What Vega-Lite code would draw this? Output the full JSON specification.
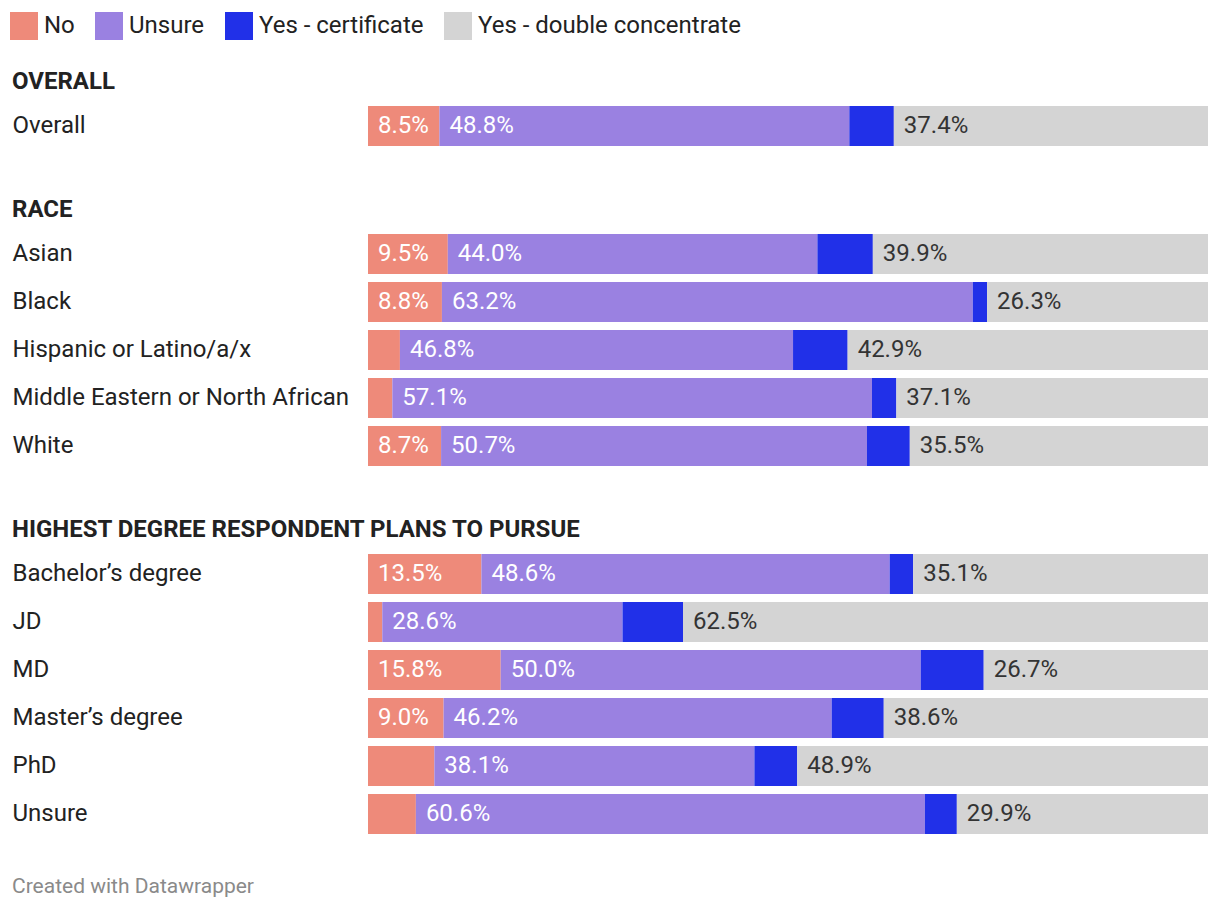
{
  "$schema": "https://vega.github.io/schema/vega-lite/v6.json",
  "background": "white",
  "padding": {"left": 10, "top": 12, "right": 12, "bottom": 12},
  "autosize": {"type": "pad"},
  "config": {
    "font": "Roboto",
    "view": {"stroke": null},
    "concat": {"spacing": 48},
    "legend": {"labelFont": "Roboto"}
  },
  "title": {"text": "Created with Datawrapper", "orient": "bottom", "anchor": "start", "frame": "bounds", "fontSize": 21, "fontWeight": "normal", "color": "#8a8a8a", "offset": 38, "dx": 2, "font": "Roboto"},
  "data": {"values": [
    {"group": "OVERALL", "label": "Overall", "answer": "No", "value": 8.5},
    {"group": "OVERALL", "label": "Overall", "answer": "Unsure", "value": 48.8},
    {"group": "OVERALL", "label": "Overall", "answer": "Yes - certificate", "value": 5.3},
    {"group": "OVERALL", "label": "Overall", "answer": "Yes - double concentrate", "value": 37.4},
    {"group": "RACE", "label": "Asian", "answer": "No", "value": 9.5},
    {"group": "RACE", "label": "Asian", "answer": "Unsure", "value": 44.0},
    {"group": "RACE", "label": "Asian", "answer": "Yes - certificate", "value": 6.6},
    {"group": "RACE", "label": "Asian", "answer": "Yes - double concentrate", "value": 39.9},
    {"group": "RACE", "label": "Black", "answer": "No", "value": 8.8},
    {"group": "RACE", "label": "Black", "answer": "Unsure", "value": 63.2},
    {"group": "RACE", "label": "Black", "answer": "Yes - certificate", "value": 1.7},
    {"group": "RACE", "label": "Black", "answer": "Yes - double concentrate", "value": 26.3},
    {"group": "RACE", "label": "Hispanic or Latino/a/x", "answer": "No", "value": 3.8},
    {"group": "RACE", "label": "Hispanic or Latino/a/x", "answer": "Unsure", "value": 46.8},
    {"group": "RACE", "label": "Hispanic or Latino/a/x", "answer": "Yes - certificate", "value": 6.5},
    {"group": "RACE", "label": "Hispanic or Latino/a/x", "answer": "Yes - double concentrate", "value": 42.9},
    {"group": "RACE", "label": "Middle Eastern or North African", "answer": "No", "value": 2.9},
    {"group": "RACE", "label": "Middle Eastern or North African", "answer": "Unsure", "value": 57.1},
    {"group": "RACE", "label": "Middle Eastern or North African", "answer": "Yes - certificate", "value": 2.9},
    {"group": "RACE", "label": "Middle Eastern or North African", "answer": "Yes - double concentrate", "value": 37.1},
    {"group": "RACE", "label": "White", "answer": "No", "value": 8.7},
    {"group": "RACE", "label": "White", "answer": "Unsure", "value": 50.7},
    {"group": "RACE", "label": "White", "answer": "Yes - certificate", "value": 5.1},
    {"group": "RACE", "label": "White", "answer": "Yes - double concentrate", "value": 35.5},
    {"group": "DEGREE", "label": "Bachelor’s degree", "answer": "No", "value": 13.5},
    {"group": "DEGREE", "label": "Bachelor’s degree", "answer": "Unsure", "value": 48.6},
    {"group": "DEGREE", "label": "Bachelor’s degree", "answer": "Yes - certificate", "value": 2.8},
    {"group": "DEGREE", "label": "Bachelor’s degree", "answer": "Yes - double concentrate", "value": 35.1},
    {"group": "DEGREE", "label": "JD", "answer": "No", "value": 1.7},
    {"group": "DEGREE", "label": "JD", "answer": "Unsure", "value": 28.6},
    {"group": "DEGREE", "label": "JD", "answer": "Yes - certificate", "value": 7.2},
    {"group": "DEGREE", "label": "JD", "answer": "Yes - double concentrate", "value": 62.5},
    {"group": "DEGREE", "label": "MD", "answer": "No", "value": 15.8},
    {"group": "DEGREE", "label": "MD", "answer": "Unsure", "value": 50.0},
    {"group": "DEGREE", "label": "MD", "answer": "Yes - certificate", "value": 7.5},
    {"group": "DEGREE", "label": "MD", "answer": "Yes - double concentrate", "value": 26.7},
    {"group": "DEGREE", "label": "Master’s degree", "answer": "No", "value": 9.0},
    {"group": "DEGREE", "label": "Master’s degree", "answer": "Unsure", "value": 46.2},
    {"group": "DEGREE", "label": "Master’s degree", "answer": "Yes - certificate", "value": 6.2},
    {"group": "DEGREE", "label": "Master’s degree", "answer": "Yes - double concentrate", "value": 38.6},
    {"group": "DEGREE", "label": "PhD", "answer": "No", "value": 7.9},
    {"group": "DEGREE", "label": "PhD", "answer": "Unsure", "value": 38.1},
    {"group": "DEGREE", "label": "PhD", "answer": "Yes - certificate", "value": 5.1},
    {"group": "DEGREE", "label": "PhD", "answer": "Yes - double concentrate", "value": 48.9},
    {"group": "DEGREE", "label": "Unsure", "answer": "No", "value": 5.7},
    {"group": "DEGREE", "label": "Unsure", "answer": "Unsure", "value": 60.6},
    {"group": "DEGREE", "label": "Unsure", "answer": "Yes - certificate", "value": 3.8},
    {"group": "DEGREE", "label": "Unsure", "answer": "Yes - double concentrate", "value": 29.9}
  ]},
  "transform": [
    {"stack": "value", "groupby": ["group", "label"], "sort": [{"field": "answer", "order": "ascending"}], "as": ["x0", "x1"]},
    {"calculate": "format(datum.value, '.1f') + '%'", "as": "pct"}
  ],
  "resolve": {"scale": {"color": "shared"}},
  "vconcat": [
    {
      "title": {"text": "OVERALL", "anchor": "start", "frame": "bounds", "offset": 8, "fontSize": 24, "fontWeight": "bold", "color": "#222222", "font": "Roboto"},
      "width": 840,
      "height": {"step": 48},
      "transform": [{"filter": "datum.group === 'OVERALL'"}],
      "encoding": {
        "y": {"field": "label", "type": "nominal", "sort": ["Overall"], "scale": {"paddingInner": 0.1667, "paddingOuter": 0.0833},
          "axis": {"title": null, "domain": false, "ticks": false, "tickSize": 0, "labelAlign": "left", "labelPadding": 356, "labelFontSize": 24, "labelColor": "#222222", "labelFont": "Roboto", "labelLimit": 400}}
      },
      "layer": [
        {"mark": {"type": "bar"},
          "encoding": {
            "x": {"field": "x0", "type": "quantitative", "scale": {"domain": [0, 100], "nice": false}, "axis": null},
            "x2": {"field": "x1"},
            "color": {"field": "answer", "type": "nominal", "scale": {"domain": ["No", "Unsure", "Yes - certificate", "Yes - double concentrate"], "range": ["#ee8a7a", "#9a81e1", "#2130e8", "#d4d4d4"]},
              "legend": {"orient": "none", "legendX": -358, "legendY": -90, "direction": "horizontal", "title": null, "symbolType": "square", "symbolSize": 784, "symbolStrokeWidth": 0, "symbolOpacity": 1, "labelFontSize": 24, "labelColor": "#222222", "labelOffset": 6, "columnPadding": 20, "labelLimit": 400}}
          }},
        {"mark": {"type": "text", "align": "left", "baseline": "middle", "dx": 10, "fontSize": 24, "font": "Roboto"},
          "transform": [{"filter": "datum.value >= 8 && datum.answer !== 'Yes - certificate'"}],
          "encoding": {
            "x": {"field": "x0", "type": "quantitative"},
            "text": {"field": "pct"},
            "color": {"condition": {"test": "datum.answer === 'Yes - double concentrate'", "value": "#333333"}, "value": "#ffffff"}
          }}
      ]
    },
    {
      "title": {"text": "RACE", "anchor": "start", "frame": "bounds", "offset": 8, "fontSize": 24, "fontWeight": "bold", "color": "#222222", "font": "Roboto"},
      "width": 840,
      "height": {"step": 48},
      "transform": [{"filter": "datum.group === 'RACE'"}],
      "encoding": {
        "y": {"field": "label", "type": "nominal", "sort": ["Asian", "Black", "Hispanic or Latino/a/x", "Middle Eastern or North African", "White"], "scale": {"paddingInner": 0.1667, "paddingOuter": 0.0833},
          "axis": {"title": null, "domain": false, "ticks": false, "tickSize": 0, "labelAlign": "left", "labelPadding": 356, "labelFontSize": 24, "labelColor": "#222222", "labelFont": "Roboto", "labelLimit": 400}}
      },
      "layer": [
        {"mark": {"type": "bar"},
          "encoding": {
            "x": {"field": "x0", "type": "quantitative", "scale": {"domain": [0, 100], "nice": false}, "axis": null},
            "x2": {"field": "x1"},
            "color": {"field": "answer", "type": "nominal"}
          }},
        {"mark": {"type": "text", "align": "left", "baseline": "middle", "dx": 10, "fontSize": 24, "font": "Roboto"},
          "transform": [{"filter": "datum.value >= 8 && datum.answer !== 'Yes - certificate'"}],
          "encoding": {
            "x": {"field": "x0", "type": "quantitative"},
            "text": {"field": "pct"},
            "color": {"condition": {"test": "datum.answer === 'Yes - double concentrate'", "value": "#333333"}, "value": "#ffffff"}
          }}
      ]
    },
    {
      "title": {"text": "HIGHEST DEGREE RESPONDENT PLANS TO PURSUE", "anchor": "start", "frame": "bounds", "offset": 8, "fontSize": 24, "fontWeight": "bold", "color": "#222222", "font": "Roboto"},
      "width": 840,
      "height": {"step": 48},
      "transform": [{"filter": "datum.group === 'DEGREE'"}],
      "encoding": {
        "y": {"field": "label", "type": "nominal", "sort": ["Bachelor’s degree", "JD", "MD", "Master’s degree", "PhD", "Unsure"], "scale": {"paddingInner": 0.1667, "paddingOuter": 0.0833},
          "axis": {"title": null, "domain": false, "ticks": false, "tickSize": 0, "labelAlign": "left", "labelPadding": 356, "labelFontSize": 24, "labelColor": "#222222", "labelFont": "Roboto", "labelLimit": 400}}
      },
      "layer": [
        {"mark": {"type": "bar"},
          "encoding": {
            "x": {"field": "x0", "type": "quantitative", "scale": {"domain": [0, 100], "nice": false}, "axis": null},
            "x2": {"field": "x1"},
            "color": {"field": "answer", "type": "nominal"}
          }},
        {"mark": {"type": "text", "align": "left", "baseline": "middle", "dx": 10, "fontSize": 24, "font": "Roboto"},
          "transform": [{"filter": "datum.value >= 8 && datum.answer !== 'Yes - certificate'"}],
          "encoding": {
            "x": {"field": "x0", "type": "quantitative"},
            "text": {"field": "pct"},
            "color": {"condition": {"test": "datum.answer === 'Yes - double concentrate'", "value": "#333333"}, "value": "#ffffff"}
          }}
      ]
    }
  ]
}
